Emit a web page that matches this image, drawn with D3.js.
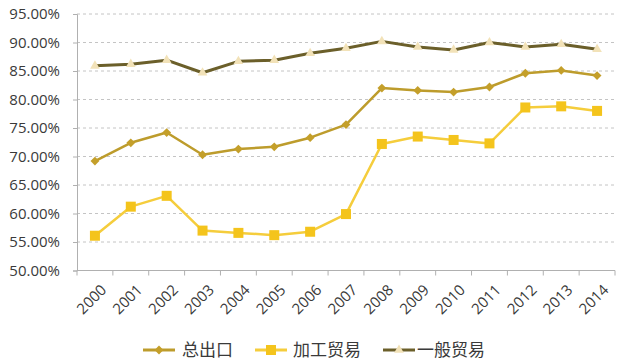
<!DOCTYPE html>
<html><head><meta charset="utf-8">
<script src="https://cdn.jsdelivr.net/npm/d3@7"></script>
<style>body{margin:0;background:#fff}svg{display:block}text{font-family:"Open Sans","DejaVu Sans",sans-serif}</style>
</head><body><svg id="c" width="627" height="360"></svg>
<script>
const years = ["2000","2001","2002","2003","2004","2005","2006","2007","2008","2009","2010","2011","2012","2013","2014"];
const totalExport = [69.2,72.4,74.2,70.3,71.3,71.7,73.3,75.6,82.0,81.6,81.3,82.2,84.6,85.1,84.2];
const processing = [56.1,61.2,63.1,57.0,56.6,56.2,56.8,59.9,72.2,73.5,72.9,72.3,78.6,78.8,78.0];
const general = [85.9,86.2,86.9,84.7,86.7,86.9,88.1,89.0,90.2,89.2,88.7,90.0,89.2,89.7,88.8];
const yTicks = [50,55,60,65,70,75,80,85,90,95];
const seriesNames = ["总出口","加工贸易","一般贸易"];

const svg = d3.select("#c");
const L=77,R=615,T=14,B=270.5;
const x = d3.scaleBand().domain(years).range([L,R]);
const y = d3.scaleLinear().domain([50,95]).range([B,T]);
const cx = d => x(d)+x.bandwidth()/2;

// gridlines
svg.append("g").selectAll("line").data(yTicks.filter(t=>t>50)).join("line")
  .attr("x1",L).attr("x2",R).attr("y1",d=>y(d)).attr("y2",d=>y(d))
  .attr("stroke","#c4c4c4").attr("stroke-width",1).attr("stroke-dasharray","3,3");

// y axis
const ya = svg.append("g").attr("transform",`translate(${L},0)`)
  .call(d3.axisLeft(y).tickValues(yTicks).tickSize(4).tickPadding(13).tickFormat(d=>d.toFixed(2)+"%"));
ya.select(".domain").attr("stroke","#b0b0b0");
ya.selectAll(".tick line").attr("stroke","#b0b0b0");
ya.selectAll("text").attr("fill","#3a3a3a").style("font-size","15px").style("font-family","Open Sans, sans-serif");

// x axis
const xa = svg.append("g").attr("transform",`translate(0,${B})`);
xa.append("line").attr("x1",L).attr("x2",R).attr("stroke","#b0b0b0");
xa.selectAll("line.tk").data(d3.range(years.length+1)).join("line").attr("class","tk")
  .attr("x1",i=>L+i*x.step()).attr("x2",i=>L+i*x.step()).attr("y1",0).attr("y2",5).attr("stroke","#b0b0b0");
xa.selectAll("text").data(years).join("text")
  .attr("transform",d=>`translate(${cx(d)+5},${13}) rotate(-45)`)
  .attr("text-anchor","end").attr("dy","0.7em")
  .attr("fill","#3a3a3a").style("font-size","15px").text(d=>d);

const line = d3.line().x((d,i)=>cx(years[i])).y(d=>y(d));

function drawSeries(data,lineColor,width,markerFn){
  svg.append("path").datum(data).attr("d",line).attr("fill","none")
    .attr("stroke",lineColor).attr("stroke-width",width).attr("stroke-linejoin","round");
  const g = svg.append("g");
  data.forEach((v,i)=>markerFn(g,cx(years[i]),y(v)));
}
const diamond=(g,px,py)=>g.append("path").attr("d",d3.symbol(d3.symbolDiamond2,50)()).attr("transform",`translate(${px},${py})`).attr("fill","#c49f2a");
const square=(g,px,py)=>g.append("rect").attr("x",px-5).attr("y",py-5).attr("width",10).attr("height",10).attr("fill","#f4c41c");
const tri=(g,px,py)=>g.append("path").attr("d",d3.symbol(d3.symbolTriangle,40)()).attr("transform",`translate(${px},${py})`).attr("fill","#f2e2b8");

drawSeries(general,"#6b5f2a",3,tri);
drawSeries(totalExport,"#bd9c2c",2.5,diamond);
drawSeries(processing,"#f5cd3c",2.5,square);

// legend
const lg = svg.append("g");
const items=[{x0:143,col:"#bd9c2c",m:diamond,tx:182},{x0:255,col:"#f5cd3c",m:square,tx:293},{x0:383,col:"#6b5f2a",m:tri,tx:417}];
items.forEach((it,i)=>{
  lg.append("line").attr("x1",it.x0).attr("x2",it.x0+32).attr("y1",350).attr("y2",350).attr("stroke",it.col).attr("stroke-width",3);
  it.m(lg,it.x0+16,350);
  lg.append("text").attr("x",it.tx).attr("y",350).attr("dy","0.35em").attr("fill","#3a3a3a")
    .style("font-size","17px").style("font-family","Noto Sans CJK SC, sans-serif").text(seriesNames[i]);
});
</script></body></html>
